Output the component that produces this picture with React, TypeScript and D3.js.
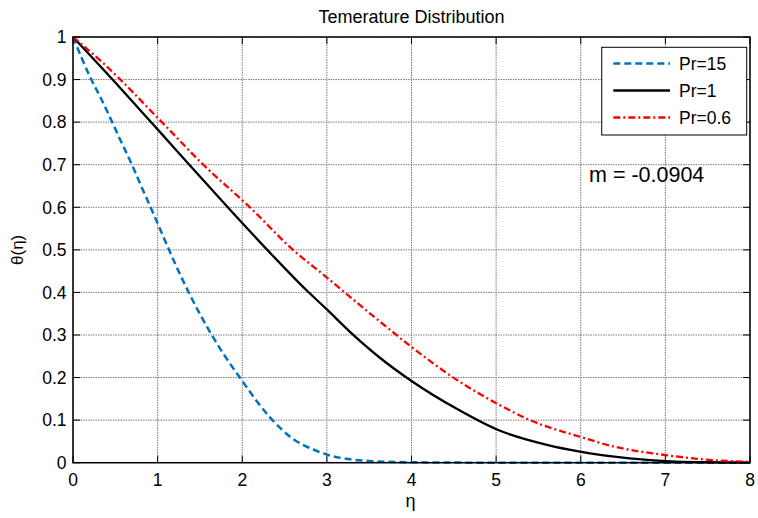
import React from "react";
import * as d3 from "d3";

const xTicks = [0, 1, 2, 3, 4, 5, 6, 7, 8];
const yTicks = [0, 0.1, 0.2, 0.3, 0.4, 0.5, 0.6, 0.7, 0.8, 0.9, 1];

const eta15 = [0, 0.2, 0.34, 0.44, 0.555, 0.69, 0.81, 0.93, 1.05, 1.19, 1.38, 1.64, 1.82, 2.0, 2.17, 2.33, 2.6, 2.84, 3.0, 3.27, 3.5, 4, 5, 6, 7, 8];
const theta15 = [1, 0.907, 0.852, 0.81, 0.76, 0.703, 0.648, 0.594, 0.539, 0.475, 0.395, 0.3, 0.243, 0.192, 0.145, 0.106, 0.056, 0.031, 0.019, 0.008, 0.004, 0.001, 0, 0, 0, 0];

const eta1 = [0, 0.5, 1.0, 1.42, 2.0, 2.31, 2.76, 3.0, 3.27, 3.63, 4.0, 4.54, 5.01, 5.6, 5.99, 6.58, 7.06, 7.5, 8];
const theta1 = [1, 0.893, 0.783, 0.69, 0.563, 0.497, 0.405, 0.36, 0.308, 0.246, 0.192, 0.126, 0.078, 0.042, 0.026, 0.01, 0.003, 0.001, 0];

const eta06 = [0, 0.36, 1.05, 1.54, 2.09, 2.6, 3.0, 3.27, 3.63, 4.0, 4.54, 5.01, 5.4, 5.99, 6.39, 7.0, 7.57, 8];
const theta06 = [1, 0.938, 0.8, 0.7, 0.6, 0.5, 0.435, 0.39, 0.331, 0.272, 0.194, 0.139, 0.1, 0.061, 0.038, 0.018, 0.006, 0.002];

const seriesNames = ["Pr=15", "Pr=1", "Pr=0.6"];
const titleText = "Temerature Distribution";
const annotation = "m = -0.0904";

const W = 758, H = 518;
const L = 73, R = 750, T = 37, B = 462.7;
const FONT = "'Liberation Sans', Arial, sans-serif";

export default function App() {
  const x = d3.scaleLinear().domain([0, 8]).range([L, R]);
  const y = d3.scaleLinear().domain([0, 1]).range([B, T]);
  const line = d3.line<[number, number]>().x(d => x(d[0])).y(d => y(d[1])).curve(d3.curveMonotoneX);

  const series = [
    { name: seriesNames[0], xs: eta15, ys: theta15, color: "#0072BD", dash: "7,4", width: 2.5 },
    { name: seriesNames[1], xs: eta1, ys: theta1, color: "#000000", dash: "", width: 2.3 },
    { name: seriesNames[2], xs: eta06, ys: theta06, color: "#FF0000", dash: "7,3,2,3", width: 2.3 },
  ];

  const tickLen = 7;
  const legX = 601.7, legY = 47.3, legW = 145, legH = 87.7;

  return (
    <svg width={W} height={H} style={{ position: "absolute", left: 0, top: 0, background: "#fff" }} fontFamily={FONT}>
      <rect x={0} y={0} width={W} height={H} fill="#fff" />
      {xTicks.map(t => (
        <line key={"gx" + t} x1={x(t)} x2={x(t)} y1={T} y2={B} stroke="#7a7a7a" strokeWidth={1} strokeDasharray="1.5,1" />
      ))}
      {yTicks.map(t => (
        <line key={"gy" + t} x1={L} x2={R} y1={y(t)} y2={y(t)} stroke="#7a7a7a" strokeWidth={1} strokeDasharray="1.5,1" />
      ))}
      {xTicks.map(t => (
        <g key={"tx" + t}>
          <line x1={x(t)} x2={x(t)} y1={B} y2={B - tickLen} stroke="#000" strokeWidth={1} />
          <line x1={x(t)} x2={x(t)} y1={T} y2={T + tickLen} stroke="#000" strokeWidth={1} />
          <text x={x(t)} y={486} textAnchor="middle" fontSize={17.5} fill="#000">{t}</text>
        </g>
      ))}
      {yTicks.map(t => (
        <g key={"ty" + t}>
          <line x1={L} x2={L + tickLen} y1={y(t)} y2={y(t)} stroke="#000" strokeWidth={1} />
          <line x1={R} x2={R - tickLen} y1={y(t)} y2={y(t)} stroke="#000" strokeWidth={1} />
          <text x={66.5} y={y(t)} dy="0.36em" textAnchor="end" fontSize={17.5} fill="#000">{d3.format("~g")(t)}</text>
        </g>
      ))}
      {series.map(s => (
        <path key={s.name} d={line(s.xs.map((v, i) => [v, s.ys[i]] as [number, number])) || ""} fill="none"
          stroke={s.color} strokeWidth={s.width} strokeDasharray={s.dash || undefined} />
      ))}
      <rect x={L} y={T} width={R - L} height={B - T} fill="none" stroke="#000" strokeWidth={1.5} />
      <text x={(L + R) / 2} y={22.5} textAnchor="middle" fontSize={18} fill="#000">{titleText}</text>
      <text x={(L + R) / 2 - 1} y={507} textAnchor="middle" fontSize={18} fill="#000">η</text>
      <text transform={`translate(23,${(T + B) / 2}) rotate(-90)`} textAnchor="middle" fontSize={17} fill="#000">θ(η)</text>
      <rect x={legX} y={legY} width={legW} height={legH} fill="#fff" stroke="#000" strokeWidth={1} />
      {series.map((s, i) => {
        const ly = 63.5 + i * 27;
        return (
          <g key={"leg" + s.name}>
            <line x1={613.3} x2={670} y1={ly} y2={ly} stroke={s.color} strokeWidth={s.width} strokeDasharray={s.dash || undefined} />
            <text x={679} y={ly} dy="0.36em" fontSize={17.5} fill="#000">{s.name}</text>
          </g>
        );
      })}
      <text x={589} y={181.5} fontSize={21.5} fill="#000">{annotation}</text>
    </svg>
  );
}
